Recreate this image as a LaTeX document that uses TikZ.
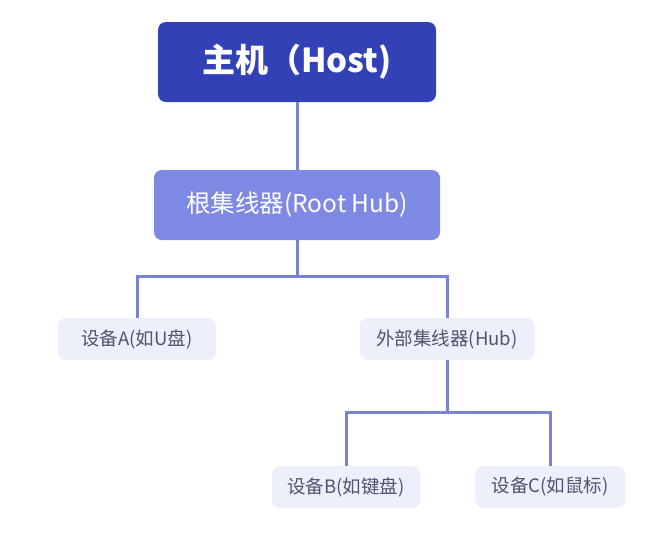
\documentclass[tikz,border=0pt]{standalone}
\usepackage{fontspec}
\setmainfont{Noto Sans CJK SC}
\usepackage{tikz}

\definecolor{hostblue}{HTML}{3341B6}
\definecolor{roothub}{HTML}{7D89E3}
\definecolor{linkline}{HTML}{7A82D4}
\definecolor{leaffill}{HTML}{EDEFFB}
\definecolor{leaftext}{HTML}{4F5470}

\begin{document}
\begin{tikzpicture}[x=1pt,y=-1pt]
	\tikzstyle{host}=[minimum height=80pt,minimum width=278pt,rectangle,rounded corners=8pt,fill=hostblue,text=white]
	\tikzstyle{hub}=[minimum height=70pt,minimum width=286pt,rectangle,rounded corners=8pt,fill=roothub,text=white]
	\tikzstyle{leaf}=[minimum height=42pt,rectangle,rounded corners=8pt,fill=leaffill,text=leaftext]
	\tikzstyle{link}=[draw=linkline,line width=3pt]

	\useasboundingbox (0,0) rectangle (652,547);

	\node[host] (HO) at (297,62) {\fontsize{33pt}{33pt}\selectfont\bfseries 主机（Host)};
	\node[hub] (RH) at (297,205) {\fontsize{24.5pt}{24.5pt}\selectfont 根集线器(Root Hub)};

	\node[leaf,minimum width=158pt] (DA) at (137,339) {\fontsize{18.5pt}{18.5pt}\selectfont 设备A(如U盘)};
	\node[leaf,minimum width=175pt] (EH) at (447,339) {\fontsize{18.5pt}{18.5pt}\selectfont 外部集线器(Hub)};
	\node[leaf,minimum width=148pt] (DB) at (346,487) {\fontsize{18.5pt}{18.5pt}\selectfont 设备B(如键盘)};
	\node[leaf,minimum width=150pt] (DC) at (550,487) {\fontsize{18.5pt}{18.5pt}\selectfont 设备C(如鼠标)};

	\coordinate (J1) at (297,276);
	\coordinate (J2) at (447,412);

	\path[link] (HO) -- (RH);
	\path[link] (RH) -- (J1) -| (DA);
	\path[link] (J1) -| (EH);
	\path[link] (EH) -- (J2) -| (DB);
	\path[link] (J2) -| (DC);
\end{tikzpicture}
\end{document}
